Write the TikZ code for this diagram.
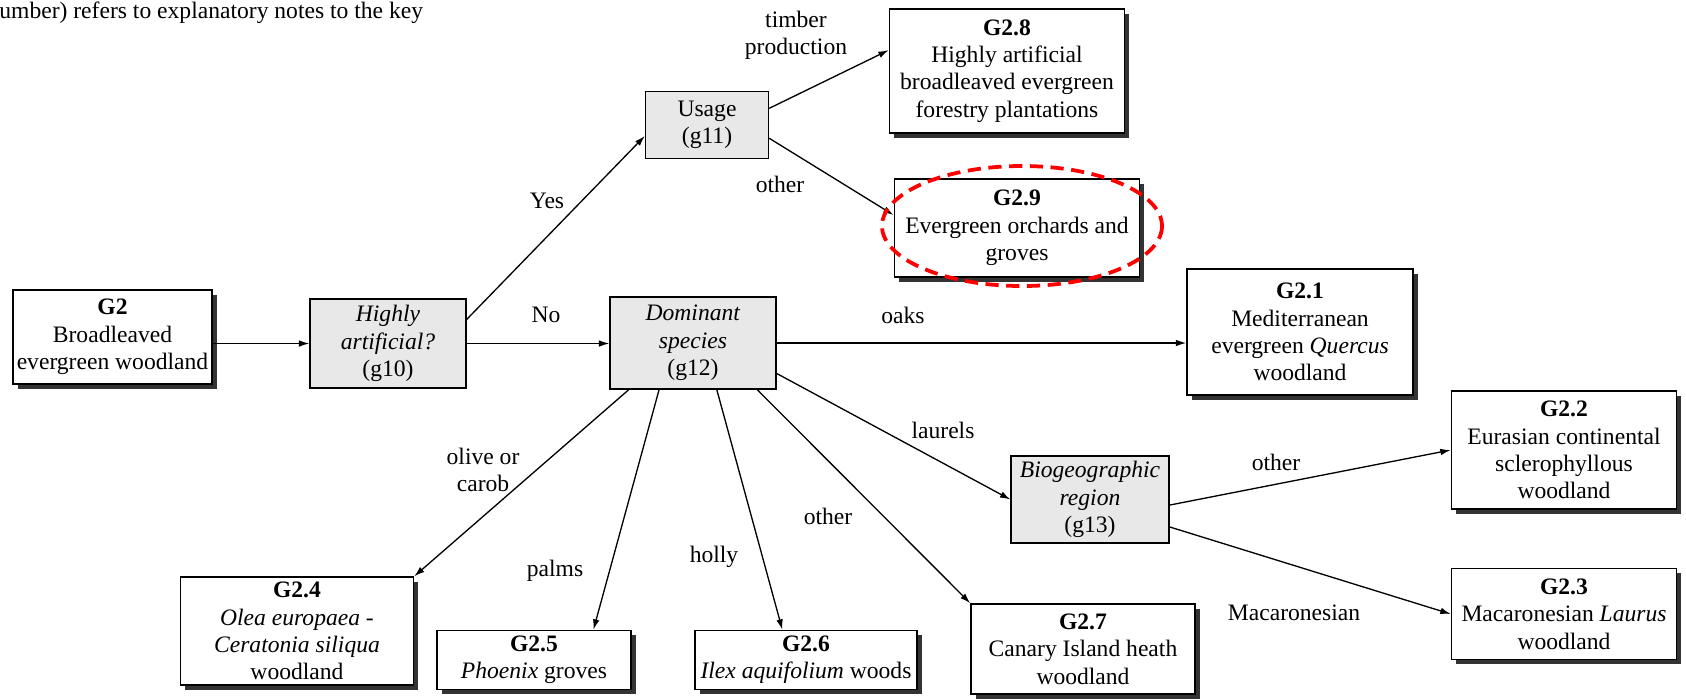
\documentclass[tikz,border=0pt]{standalone}
\usepackage{fontspec}
\setmainfont{Liberation Serif}
\usetikzlibrary{arrows.meta,shadows}

\begin{document}
\begin{tikzpicture}[x=0.53pt,y=-0.53pt,font=\fontsize{12.5}{14.5}\selectfont,
    leaf/.style={draw,line width=0.8pt,fill=white,align=center,inner sep=1.5pt,drop shadow={shadow xshift=2.5pt,shadow yshift=-2.5pt,fill=black!80,opacity=1}},
    query/.style={draw,line width=0.7pt,fill=gray!18,align=center,inner sep=1.5pt},
    lbl/.style={align=center,inner sep=1pt},
    arr/.style={-{Latex[length=5.5pt,width=3.5pt]},line width=0.7pt},
    ring/.style={draw=red,line width=2pt,dash pattern=on 7pt off 4pt}]
  \useasboundingbox (0,0) rectangle (1686,699);
  \node[anchor=west,inner sep=0] (key) at (-1,13) {umber) refers to explanatory notes to the key};
  \node[leaf,minimum width=105.5pt,minimum height=49.8pt] (G2) at (112.5,337) {\textbf{G2}\\Broadleaved\\evergreen woodland};
  \node[query,minimum width=82.7pt,minimum height=47.2pt] (g10) at (388,343.5) {\textit{Highly}\\\textit{artificial?}\\(g10)};
  \node[query,minimum width=88pt,minimum height=48.8pt] (g12) at (693,343) {\textit{Dominant}\\\textit{species}\\(g12)};
  \node[query,minimum width=65.2pt,minimum height=35.5pt] (g11) at (707,125) {Usage\\(g11)};
  \node[query,minimum width=83.7pt,minimum height=46.1pt] (g13) at (1090,499.5) {\textit{Biogeographic}\\\textit{region}\\(g13)};
  \node[leaf,minimum width=124.6pt,minimum height=65.7pt] (G28) at (1007,71) {\textbf{G2.8}\\Highly artificial\\broadleaved evergreen\\forestry plantations};
  \node[leaf,minimum width=130pt,minimum height=51.9pt] (G29) at (1017,228) {\textbf{G2.9}\\Evergreen orchards and\\groves};
  \node[leaf,minimum width=119.8pt,minimum height=66.8pt] (G21) at (1300,332) {\textbf{G2.1}\\Mediterranean\\evergreen \textit{Quercus}\\woodland};
  \node[leaf,minimum width=119.3pt,minimum height=62.5pt] (G22) at (1564,450) {\textbf{G2.2}\\Eurasian continental\\sclerophyllous\\woodland};
  \node[leaf,minimum width=119.3pt,minimum height=48.2pt] (G23) at (1564,614) {\textbf{G2.3}\\Macaronesian \textit{Laurus}\\woodland};
  \node[leaf,minimum width=123.5pt,minimum height=57.2pt] (G24) at (297,631) {\textbf{G2.4}\\\textit{Olea europaea -}\\\textit{Ceratonia siliqua}\\woodland};
  \node[leaf,minimum width=102.8pt,minimum height=31.3pt] (G25) at (534,660) {\textbf{G2.5}\\\textit{Phoenix} groves};
  \node[leaf,minimum width=117.7pt,minimum height=31.3pt] (G26) at (806,660) {\textbf{G2.6}\\\textit{Ilex aquifolium} woods};
  \node[leaf,minimum width=118.7pt,minimum height=47.7pt] (G27) at (1083,649) {\textbf{G2.7}\\Canary Island heath\\woodland};
  \node[lbl] (tYes) at (547,201) {Yes};
  \node[lbl] (tNo) at (546,315) {No};
  \node[lbl] (tTimber) at (796,35) {timber\\production};
  \node[lbl] (tOtherA) at (780,184) {other};
  \node[lbl] (tOaks) at (903,315) {oaks};
  \node[lbl] (tLaurels) at (943,430) {laurels};
  \node[lbl] (tOlive) at (483,470) {olive or\\carob};
  \node[lbl] (tPalms) at (555,571) {palms};
  \node[lbl] (tHolly) at (714,557) {holly};
  \node[lbl] (tOtherB) at (828,516) {other};
  \node[lbl] (tOtherC) at (1276,462) {other};
  \node[lbl] (tMac) at (1294,613) {Macaronesian};
  \draw[arr] (G2.east |- g10.west) -- (g10.west);
  \draw[arr] (g10.east) -- (g10.east -| g12.west);
  \draw[arr] (g10.17) -- (g11.190);
  \draw[arr] (g11.15) -- (G28.170);
  \draw[arr] (g11.-12) -- (G29.174);
  \draw[arr] (g12.east) -- (g12.east -| G21.west);
  \draw[arr] (g12.-20) -- (g13.west);
  \draw[arr] (g12.-144) -- (G24.north east);
  \draw[arr] (g12.-126) -- (G25.27);
  \draw[arr] (g12.-63) -- (G26.128);
  \draw[arr] (g12.-36) -- (G27.north west);
  \draw[arr] (g13.-4) -- (G22.west);
  \draw[arr] (g13.-19) -- (G23.west);
  \draw[ring] (G29.center) ++(5,-2) ellipse [x radius=140, y radius=60];
\end{tikzpicture}
\end{document}
